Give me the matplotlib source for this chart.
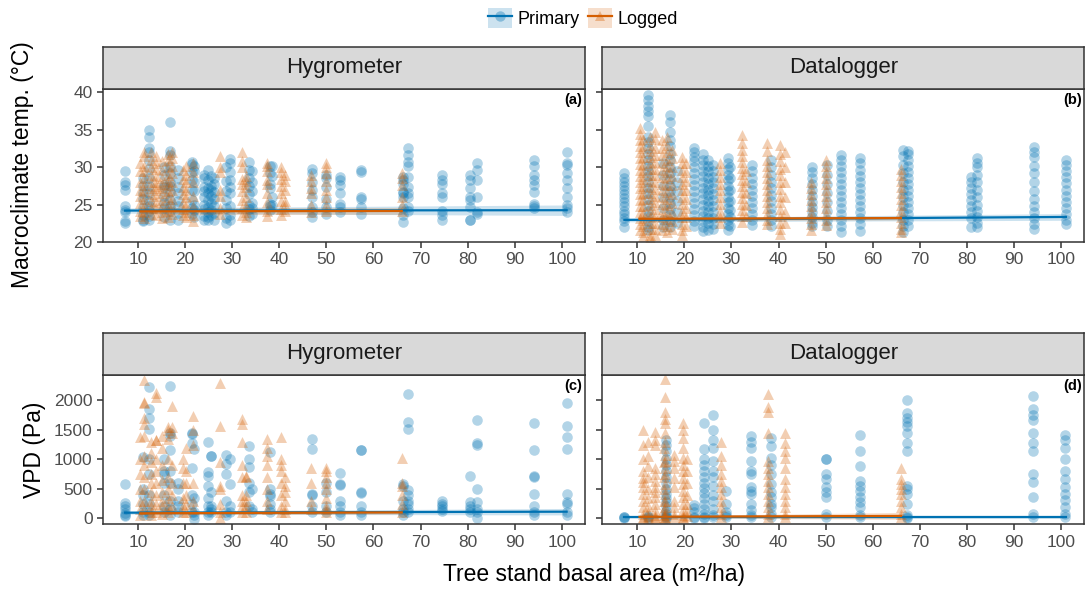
import matplotlib.pyplot as plt
import numpy as np
from matplotlib.lines import Line2D
from matplotlib.patches import Patch

plt.rcParams['font.family'] = ['Liberation Sans', 'DejaVu Sans']

BLUE = '#0072B2'
ORANGE = '#D55E00'

# Hygrometer macroclimate temperature (deg C), keyed by plot basal area (m2/ha)
hyg_temp_primary = {
    7.3: [29.5, 28.0, 27.6, 27.0, 24.8, 24.3, 24.0, 22.8, 22.6],
    11.0: [28.5, 27.5, 26.6, 25.7, 24.6, 23.6, 23.0, 22.8],
    12.3: [35.0, 34.0, 32.5, 32.0, 31.0, 29.8, 28.6, 27.5, 26.5, 25.5, 24.8, 24.2, 23.5, 23.0],
    15.5: [30.0, 29.0, 27.6, 27.4, 26.2, 25.2, 24.5, 23.4],
    16.8: [36.0, 32.1, 31.6, 30.2, 29.2, 28.0, 27.5, 26.7, 25.6, 24.8, 24.2, 23.0],
    18.5: [29.6, 28.5, 27.3, 26.5, 25.5, 24.8, 23.9, 22.9],
    21.5: [30.7, 30.4, 29.4, 28.3, 27.0, 25.6, 24.5, 23.8],
    22.0: [30.2, 29.5, 28.0, 26.8, 25.0, 24.3, 23.3],
    24.0: [29.0, 28.5, 27.4, 26.8, 26.0, 25.0, 24.4, 23.5, 23.0],
    24.8: [29.6, 28.3, 27.2, 26.5, 25.6, 24.7, 24.0, 23.3, 22.9],
    25.5: [28.8, 27.5, 27.0, 26.2, 25.2, 24.3, 23.6],
    26.2: [28.5, 27.8, 26.7, 25.8, 24.8, 23.9, 23.0],
    28.8: [30.0, 28.2, 26.8, 25.6, 24.6, 23.2, 22.5],
    29.5: [31.1, 30.5, 29.4, 28.3, 27.4, 26.5, 24.8, 23.6, 22.9],
    33.5: [30.7, 29.6, 28.6, 27.5, 26.4, 25.0, 24.4, 23.5],
    34.2: [29.5, 28.0, 26.8, 25.2, 24.5, 23.8],
    38.0: [30.1, 29.2, 27.8, 27.2, 25.1, 24.8, 24.3],
    38.5: [30.2, 28.8, 26.0, 24.9],
    47.0: [29.8, 29.2, 28.0, 27.0, 26.0, 24.7, 24.0, 23.3],
    50.0: [29.0, 28.5, 27.4, 25.8, 24.7, 23.8],
    53.0: [28.7, 28.3, 27.6, 26.5, 25.1, 24.7, 24.0],
    57.3: [29.6, 29.4, 26.0, 25.7, 24.7, 23.8],
    66.3: [28.7, 28.3, 27.8, 26.7, 26.5, 26.0, 24.5, 23.6, 22.7],
    67.3: [32.5, 31.6, 30.7, 30.1, 28.7, 27.4, 26.5, 26.0, 24.7, 24.2],
    74.5: [29.0, 28.3, 27.8, 26.5, 26.0, 24.2, 23.6, 22.9],
    80.5: [29.0, 28.3, 27.2, 26.0, 25.6, 24.7, 23.0, 22.9],
    82.0: [30.5, 29.6, 28.3, 26.0, 24.0, 23.8],
    94.0: [31.0, 30.2, 29.0, 28.3, 27.6, 26.7, 25.1, 24.8, 24.5],
    101.0: [32.0, 30.5, 30.3, 29.2, 28.3, 27.2, 26.0, 24.9, 24.5, 24.0],
}
hyg_temp_logged = {
    10.5: [30.5, 29.5, 28.0, 27.0, 26.2, 25.2, 24.2, 23.5],
    11.2: [32.0, 31.5, 30.2, 29.5, 28.5, 27.6, 26.8, 25.8, 24.8, 24.0, 23.2],
    12.8: [32.0, 31.0, 30.0, 29.0, 28.0, 27.2, 26.4, 25.5, 24.6, 23.8],
    13.8: [31.5, 30.5, 29.8, 28.8, 28.0, 27.5, 27.0, 26.2, 25.3, 24.5, 23.6],
    15.2: [30.8, 29.6, 28.6, 27.8, 27.2, 26.5, 25.6, 24.8, 24.0, 23.2],
    16.3: [31.8, 31.0, 30.0, 29.0, 28.2, 27.6, 26.8, 26.0, 25.0, 24.2, 23.4],
    17.3: [32.0, 31.2, 30.2, 29.2, 28.0, 27.0, 25.8, 24.8, 23.8],
    19.5: [29.6, 28.4, 27.4, 26.4, 25.3, 24.4, 23.6],
    20.3: [30.2, 29.0, 28.0, 27.0, 26.0, 25.0, 24.0, 23.4],
    21.8: [30.6, 29.4, 28.0, 26.2, 24.8, 23.6, 22.8],
    27.5: [31.5, 30.0, 29.4, 27.0, 26.2, 24.6, 23.8],
    32.2: [32.0, 30.8, 30.0, 28.4, 27.8, 26.8, 25.6, 24.5, 23.6],
    33.0: [28.8, 28.2, 27.4, 26.0, 24.8, 24.0, 23.4],
    37.5: [30.5, 30.2, 29.5, 28.3, 27.8, 26.6, 25.4, 24.2, 23.5],
    40.3: [30.0, 29.3, 28.4, 27.5, 26.6, 25.5, 24.4, 23.6],
    41.3: [29.0, 28.2, 27.0, 25.5, 25.0, 24.2],
    46.8: [29.0, 28.2, 27.2, 26.5, 25.0, 24.0],
    50.0: [30.5, 30.0, 29.2, 28.2, 27.0, 26.0, 25.0, 24.2],
    66.0: [29.2, 28.5, 27.6, 26.0, 25.0, 24.2],
}

# Datalogger macroclimate temperature (deg C)
dl_temp_primary = {
    7.3: [29.2, 28.6, 28.0, 27.5, 27.0, 26.4, 25.9, 25.3, 24.8, 24.2, 23.7, 23.2, 22.8, 22.0],
    12.3: [39.6, 39.0, 38.2, 37.5, 36.8, 35.5, 34.1, 33.4, 32.5, 31.8, 31.0, 30.2, 29.5, 28.8,
           28.0, 27.2, 26.5, 25.8, 25.0, 24.2, 23.5, 22.8, 22.0, 21.6],
    15.5: [30.5, 29.0, 27.5, 26.0, 24.5, 23.0, 22.0],
    17.0: [37.0, 36.1, 34.7, 33.6, 32.8, 31.8, 31.0, 30.0, 29.2, 28.4, 27.5, 26.8, 26.0, 25.2,
           24.4, 23.6, 22.8, 22.0],
    18.5: [29.5, 28.0, 26.8, 25.5, 24.0, 22.5],
    22.0: [32.5, 32.0, 31.4, 30.8, 30.0, 29.2, 28.4, 27.6, 26.8, 26.0, 25.2, 24.4, 23.6, 22.8, 22.2],
    24.0: [31.8, 31.0, 30.3, 29.5, 28.8, 28.0, 27.2, 26.5, 25.7, 25.0, 24.2, 23.5, 22.8, 22.0, 21.5],
    25.0: [31.0, 30.2, 29.5, 28.6, 27.8, 27.0, 26.3, 25.5, 24.8, 24.0, 23.2, 22.5, 21.6],
    26.2: [30.3, 29.5, 28.7, 28.0, 27.2, 26.4, 25.6, 24.8, 24.0, 23.2, 22.4, 21.8],
    29.3: [31.2, 30.5, 29.8, 29.0, 28.3, 27.5, 26.8, 26.0, 25.3, 24.5, 23.8, 23.0, 22.3, 21.6],
    29.8: [30.0, 28.5, 27.0, 25.5, 24.3, 23.3, 22.2],
    34.3: [30.3, 29.5, 28.6, 27.8, 27.0, 26.2, 25.4, 24.6, 23.8, 23.0, 22.3],
    38.5: [30.9, 30.0, 29.0, 28.0, 27.2, 26.3, 25.5, 24.6, 23.8, 23.0, 22.2],
    47.2: [30.0, 29.3, 28.5, 27.8, 27.0, 26.2, 25.4, 24.7, 24.0, 23.3, 22.6, 22.2],
    50.2: [30.3, 29.0, 27.8, 26.5, 25.3, 24.2, 23.0, 22.2],
    53.2: [31.6, 31.0, 30.2, 29.4, 28.6, 27.8, 27.0, 26.2, 25.4, 24.6, 23.8, 23.0, 22.2, 21.4],
    57.3: [31.2, 30.5, 29.6, 28.8, 28.0, 27.2, 26.4, 25.6, 24.8, 24.0, 23.2, 22.4, 21.5],
    66.5: [32.3, 31.5, 30.3, 29.2, 28.0, 27.0, 26.0, 25.0, 24.0, 23.0, 22.2, 21.4],
    67.5: [32.1, 31.7, 31.0, 30.2, 29.4, 28.6, 27.8, 27.0, 26.2, 25.4, 24.6, 23.8, 23.0, 22.2],
    80.8: [28.7, 28.0, 27.2, 26.4, 25.6, 24.8, 24.0, 23.2, 22.0],
    82.2: [31.2, 30.6, 30.0, 29.0, 28.0, 27.0, 26.0, 25.0, 24.2, 23.4, 22.6, 22.0],
    94.2: [32.7, 32.0, 31.3, 30.2, 29.2, 28.0, 26.8, 25.8, 24.8, 24.0, 23.2, 22.4, 21.8],
    101.0: [30.9, 30.3, 29.5, 28.7, 27.9, 27.0, 26.2, 25.4, 24.6, 23.8, 23.0, 22.4],
}
dl_temp_logged = {
    10.5: [35.2, 34.5, 33.6, 32.8, 32.0, 31.2, 30.4, 29.6, 28.8, 28.0, 27.2, 26.4, 25.6, 24.8,
           24.0, 23.2, 22.4, 21.6],
    11.3: [33.8, 32.5, 31.4, 30.3, 29.3, 28.4, 27.5, 26.6, 25.7, 24.8, 23.9, 23.0, 22.2, 21.4, 20.8],
    12.8: [34.0, 33.0, 32.2, 31.4, 30.6, 29.8, 29.0, 28.2, 27.4, 26.6, 25.8, 25.0, 24.2, 23.4,
           22.6, 21.8, 21.0, 20.6],
    13.8: [34.7, 33.8, 32.6, 31.6, 30.7, 29.8, 28.9, 28.0, 27.1, 26.2, 25.3, 24.4, 23.5, 22.6,
           21.7, 20.9],
    15.2: [33.6, 32.5, 31.6, 30.5, 29.6, 28.7, 27.8, 26.9, 26.0, 25.1, 24.2, 23.3, 22.4, 21.6],
    16.3: [34.0, 33.0, 32.0, 31.0, 30.2, 29.4, 28.5, 27.6, 26.7, 25.8, 24.9, 24.0, 23.1, 22.2, 21.4],
    17.4: [32.3, 31.2, 30.0, 28.8, 27.6, 26.4, 25.2, 24.0, 22.8, 21.8],
    19.5: [31.4, 30.5, 29.6, 28.7, 27.8, 26.9, 26.0, 25.1, 24.2, 23.3, 22.4, 21.6, 21.0],
    20.3: [30.5, 29.3, 28.1, 26.9, 25.7, 24.5, 23.3, 22.2],
    27.5: [30.5, 29.6, 28.7, 27.8, 26.9, 26.0, 25.1, 24.2, 23.4, 22.6],
    32.2: [34.3, 33.2, 32.3, 31.5, 30.7, 29.9, 29.1, 28.3, 27.5, 26.7, 25.9, 25.1, 24.3, 23.5, 22.7],
    33.0: [29.5, 28.0, 26.5, 25.0, 23.5],
    37.5: [33.2, 32.2, 31.0, 30.2, 29.4, 28.6, 27.8, 27.0, 26.2, 25.4, 24.6, 23.8, 23.0, 22.4],
    40.3: [32.9, 31.8, 30.8, 29.8, 28.9, 28.0, 27.1, 26.2, 25.3, 24.4, 23.5, 22.6, 21.8, 21.1],
    41.3: [32.0, 30.0, 28.0, 26.0, 24.0, 22.5],
    46.8: [28.0, 27.2, 26.4, 25.6, 24.8, 24.0, 23.2, 22.4, 21.6],
    50.0: [31.0, 30.2, 29.4, 28.6, 27.8, 27.0, 26.2, 25.4, 24.6, 23.8, 23.0, 22.3],
    66.0: [29.8, 29.0, 28.2, 27.4, 26.6, 25.8, 25.0, 24.2, 23.4, 22.6, 21.8, 21.4],
}

# Hygrometer vapour pressure deficit (Pa)
hyg_vpd_primary = {
    7.3: [580, 260, 200, 150, 90, 60, 40],
    11.0: [1040, 500, 400, 250, 100, 50],
    12.3: [2230, 1850, 1700, 1520, 1000, 750, 400, 250, 100, 50],
    15.5: [1000, 800, 750, 600, 400, 200, 100],
    16.8: [2250, 1450, 1400, 1150, 800, 600, 300, 150, 60],
    18.5: [600, 500, 300, 200, 100],
    21.5: [1450, 1430, 1280, 850, 400, 250, 100],
    22.0: [1170, 350, 100, 50, -20],
    24.8: [1290, 780, 720, 550, 350, 200, 100, 50],
    25.5: [1050, 1050, 450, 200, 150, 100],
    28.8: [1080, 920, 750, 300, 100, 50],
    29.5: [1000, 580, 200, 100],
    33.5: [1230, 1000, 870, 600, 450, 200],
    34.2: [500, 150, 100],
    38.0: [1130, 500, 420, 380, 250, 150, 100],
    47.0: [1340, 1180, 420, 400, 200, 100],
    50.0: [600, 450, 200, 100],
    53.0: [760, 580, 560, 300, 200, 100, 50],
    57.3: [1150, 1150, 450, 430, 200, 100, 50],
    66.3: [580, 550, 300, 150, 100, 50],
    67.3: [2100, 1640, 1520, 480, 400, 300, 250, 150, 100],
    74.5: [300, 250, 200, 150, 120],
    80.5: [720, 280, 200, 150, 100],
    82.0: [1660, 1280, 1250, 500, 280, 150, 100, 0],
    94.0: [1620, 1150, 720, 700, 420, 200, 100, 50],
    101.0: [1950, 1570, 1380, 1180, 420, 280, 250, 100, 50],
}
hyg_vpd_logged = {
    10.5: [1380, 1000, 750, 500, 300, 150, 50],
    11.2: [2350, 1980, 1950, 1700, 1600, 1400, 1050, 900, 700, 500, 300, 150],
    12.8: [1300, 1100, 950, 750, 600, 450, 300, 200, 100, 50],
    13.8: [2120, 2050, 1330, 1320, 1000, 800, 600, 400, 250, 100],
    15.2: [1400, 1200, 900, 650, 450, 300, 200, 80],
    16.3: [1550, 1500, 1350, 1000, 700, 500, 350, 200, 100],
    17.3: [1900, 1550, 1450, 900, 600, 400, 200],
    19.5: [1000, 850, 600, 350, 200, 100],
    20.3: [1200, 800, 600, 400, 250, 100],
    21.8: [1730, 1500, 1250, 600, 300, 150],
    27.5: [2300, 1560, 950, 550, 500, 250, 100, 0],
    32.2: [1680, 1600, 1300, 900, 700, 400, 300, 200, 100],
    33.0: [720, 700, 400, 300, 200, 100],
    37.5: [1350, 1200, 1050, 900, 700, 500, 300, 150],
    40.3: [1380, 1000, 900, 800, 600, 400, 200, 100],
    41.3: [700, 550, 450, 300, 150, 100],
    46.8: [850, 600, 300, 150],
    50.0: [850, 800, 700, 600, 500, 350, 200, 150, 100],
    66.0: [1020, 600, 550, 400, 250, 100],
}

# Datalogger vapour pressure deficit (Pa)
dl_vpd_primary = {
    7.3: [30, 15, 5],
    12.3: [40, 20, 10],
    16.2: [1330, 1250, 1140, 1000, 900, 800, 700, 600, 500, 420, 350, 280, 200, 130, 80, 40, 20, 5],
    22.0: [220, 170, 100, 30, 10],
    24.1: [1610, 1170, 1000, 900, 800, 700, 600, 520, 430, 350, 250, 150, 80, 30, 10],
    26.2: [1760, 1500, 1330, 1190, 970, 800, 700, 550, 400, 300, 150, 60, 20],
    28.8: [470, 250, 100, 50, 20],
    34.1: [1390, 1300, 1190, 970, 800, 750, 530, 470, 415, 250, 140, 60, 20],
    38.5: [1360, 1220, 1030, 910, 750, 580, 440, 360, 250, 190, 80, 20],
    50.0: [1000, 1000, 750, 660, 530, 440, 360, 80, 30],
    57.3: [1415, 1140, 890, 640, 550, 470, 360, 280, 190, 55, 20],
    67.3: [2000, 1780, 1700, 1640, 1560, 1450, 1280, 1140, 550, 500, 415, 250, 55, 25, 10],
    94.0: [2080, 1860, 1750, 1660, 1440, 1280, 1140, 750, 610, 360, 80, 30],
    100.8: [1415, 1330, 1190, 1000, 800, 665, 525, 415, 305, 195, 80, 25],
}
dl_vpd_logged = {
    11.2: [1500, 1250, 1000, 800, 690, 610, 530, 420, 300, 190, 80, 30, 10],
    12.2: [1300, 1050, 880, 700, 500, 350, 200, 100, 40, 10],
    13.8: [1470, 1330, 1250, 860, 750, 640, 530, 440, 360, 250, 140, 55, 20, 5],
    15.8: [1200, 950, 700, 500, 300, 150, 60, 15],
    16.0: [2360, 2060, 1800, 1690, 1610, 1440, 1300, 1080, 970, 860, 750, 580, 415, 300, 190, 80, 25, 5],
    17.8: [1080, 970, 860, 690, 530, 300, 190, 80, 30],
    19.8: [1610, 1500, 1360, 1190, 1030, 910, 800, 690, 580, 470, 360, 250, 140, 55, 20, 5],
    20.5: [1000, 800, 600, 400, 250, 120, 40],
    27.8: [1300, 1050, 910, 750, 640, 530, 415, 300, 190, 80, 30],
    37.7: [2110, 1890, 1800, 1440, 970, 860, 750, 640, 530, 415, 300, 190, 80, 30],
    41.3: [1440, 1270, 1140, 1030, 860, 660, 530, 415, 300, 190, 80, 30],
    66.0: [860, 660, 580, 500, 415, 300, 190, 80, 25],
}

# fitted trend (value at first/last basal area) and half width of the 95% band
fit_x_primary = [7.3, 101.0]
fit_x_logged = [10.5, 66.0]
hyg_temp_fit = {'Primary': ([24.20, 24.25], [0.35, 0.70]), 'Logged': ([24.10, 24.15], [0.45, 0.45])}
dl_temp_fit = {'Primary': ([22.95, 23.35], [0.25, 0.45]), 'Logged': ([23.10, 23.20], [0.25, 0.25])}
hyg_vpd_fit = {'Primary': ([95, 112], [25, 55]), 'Logged': ([85, 100], [25, 30])}
dl_vpd_fit = {'Primary': ([15, 15], [12, 15]), 'Logged': ([25, 40], [12, 60])}

x_ticks = [10, 20, 30, 40, 50, 60, 70, 80, 90, 100]
temp_ticks = [20, 25, 30, 35, 40]
vpd_ticks = [0, 500, 1000, 1500, 2000]

W, H = 1085, 590
fig = plt.figure(figsize=(W / 100, H / 100), dpi=100)


def flat(d):
    xs, ys = [], []
    for k, v in d.items():
        xs += [k] * len(v)
        ys += v
    return xs, ys


def panel(left, bottom, width, height, strip_h, title, tag, primary, logged, fit, ylim, yticks, show_y):
    ax = fig.add_axes([left / W, 1 - (bottom) / H, width / W, height / H])
    for d, col, mk, sz in [(primary, BLUE, 'o', 58), (logged, ORANGE, '^', 62)]:
        xs, ys = flat(d)
        ax.scatter(xs, ys, s=sz, marker=mk, color=col, alpha=0.3, linewidths=0, zorder=2)
    for name, col, fx in [('Primary', BLUE, fit_x_primary), ('Logged', ORANGE, fit_x_logged)]:
        fy, band = fit[name]
        fy = np.array(fy)
        band = np.array(band)
        ax.fill_between(fx, fy - band, fy + band, color=col, alpha=0.2, linewidth=0, zorder=3)
        ax.plot(fx, fy, color=col, lw=1.6, zorder=4)
    ax.set_xlim(2.6, 104.9)
    ax.set_ylim(*ylim)
    ax.set_xticks(x_ticks)
    ax.set_yticks(yticks)
    if not show_y:
        ax.set_yticklabels([])
        ax.tick_params(axis='y', length=0)
    for s in ax.spines.values():
        s.set_color('#333333')
        s.set_linewidth(1.1)
    ax.tick_params(colors='#333333', labelcolor='#4D4D4D', labelsize=12.5, length=4, width=1.1)
    ax.text(0.995, 0.975, tag, transform=ax.transAxes, ha='right', va='top',
            fontsize=10.5, fontweight='bold')
    # facet strip
    sax = fig.add_axes([left / W, 1 - (bottom - height) / H, width / W, strip_h / H])
    sax.set_facecolor('#D9D9D9')
    sax.set_xticks([])
    sax.set_yticks([])
    for s in sax.spines.values():
        s.set_color('#333333')
        s.set_linewidth(1.1)
    sax.text(0.5, 0.5, title, transform=sax.transAxes, ha='center', va='center',
             fontsize=16, color='#1A1A1A')
    return ax


temp_lim = (20, 40.45)
vpd_lim = (-102, 2430)
panel(103, 242, 482, 153, 42, 'Hygrometer', '(a)', hyg_temp_primary, hyg_temp_logged,
      hyg_temp_fit, temp_lim, temp_ticks, True)
panel(602.3, 242, 482, 153, 42, 'Datalogger', '(b)', dl_temp_primary, dl_temp_logged,
      dl_temp_fit, temp_lim, temp_ticks, False)
panel(103, 524.3, 482, 149.3, 42, 'Hygrometer', '(c)', hyg_vpd_primary, hyg_vpd_logged,
      hyg_vpd_fit, vpd_lim, vpd_ticks, True)
panel(602.3, 524.3, 482, 149.3, 42, 'Datalogger', '(d)', dl_vpd_primary, dl_vpd_logged,
      dl_vpd_fit, vpd_lim, vpd_ticks, False)

fig.text(22 / W, 1 - 165 / H, 'Macroclimate temp. (°C)', rotation=90, ha='center', va='center',
         fontsize=16.5)
fig.text(35 / W, 1 - 450 / H, 'VPD (Pa)', rotation=90, ha='center', va='center', fontsize=16.5)
fig.text(594 / W, 1 - 575 / H, 'Tree stand basal area (m²/ha)', ha='center', va='center',
         fontsize=16.5)

handles = []
for col, mk in [(BLUE, 'o'), (ORANGE, '^')]:
    handles.append((Patch(facecolor=col, alpha=0.2, edgecolor='none'),
                    Line2D([], [], color=col, lw=1.6),
                    Line2D([], [], ls='none', marker=mk, markersize=7.5, color=col,
                           alpha=0.35, markeredgewidth=0)))
fig.legend(handles, ['Primary', 'Logged'], loc='center', bbox_to_anchor=(583 / W, 1 - 18 / H),
           ncol=2, frameon=False, fontsize=13, handlelength=1.3, handleheight=1.3,
           handletextpad=0.3, columnspacing=0.5)

fig.savefig('out.png', dpi=100)
